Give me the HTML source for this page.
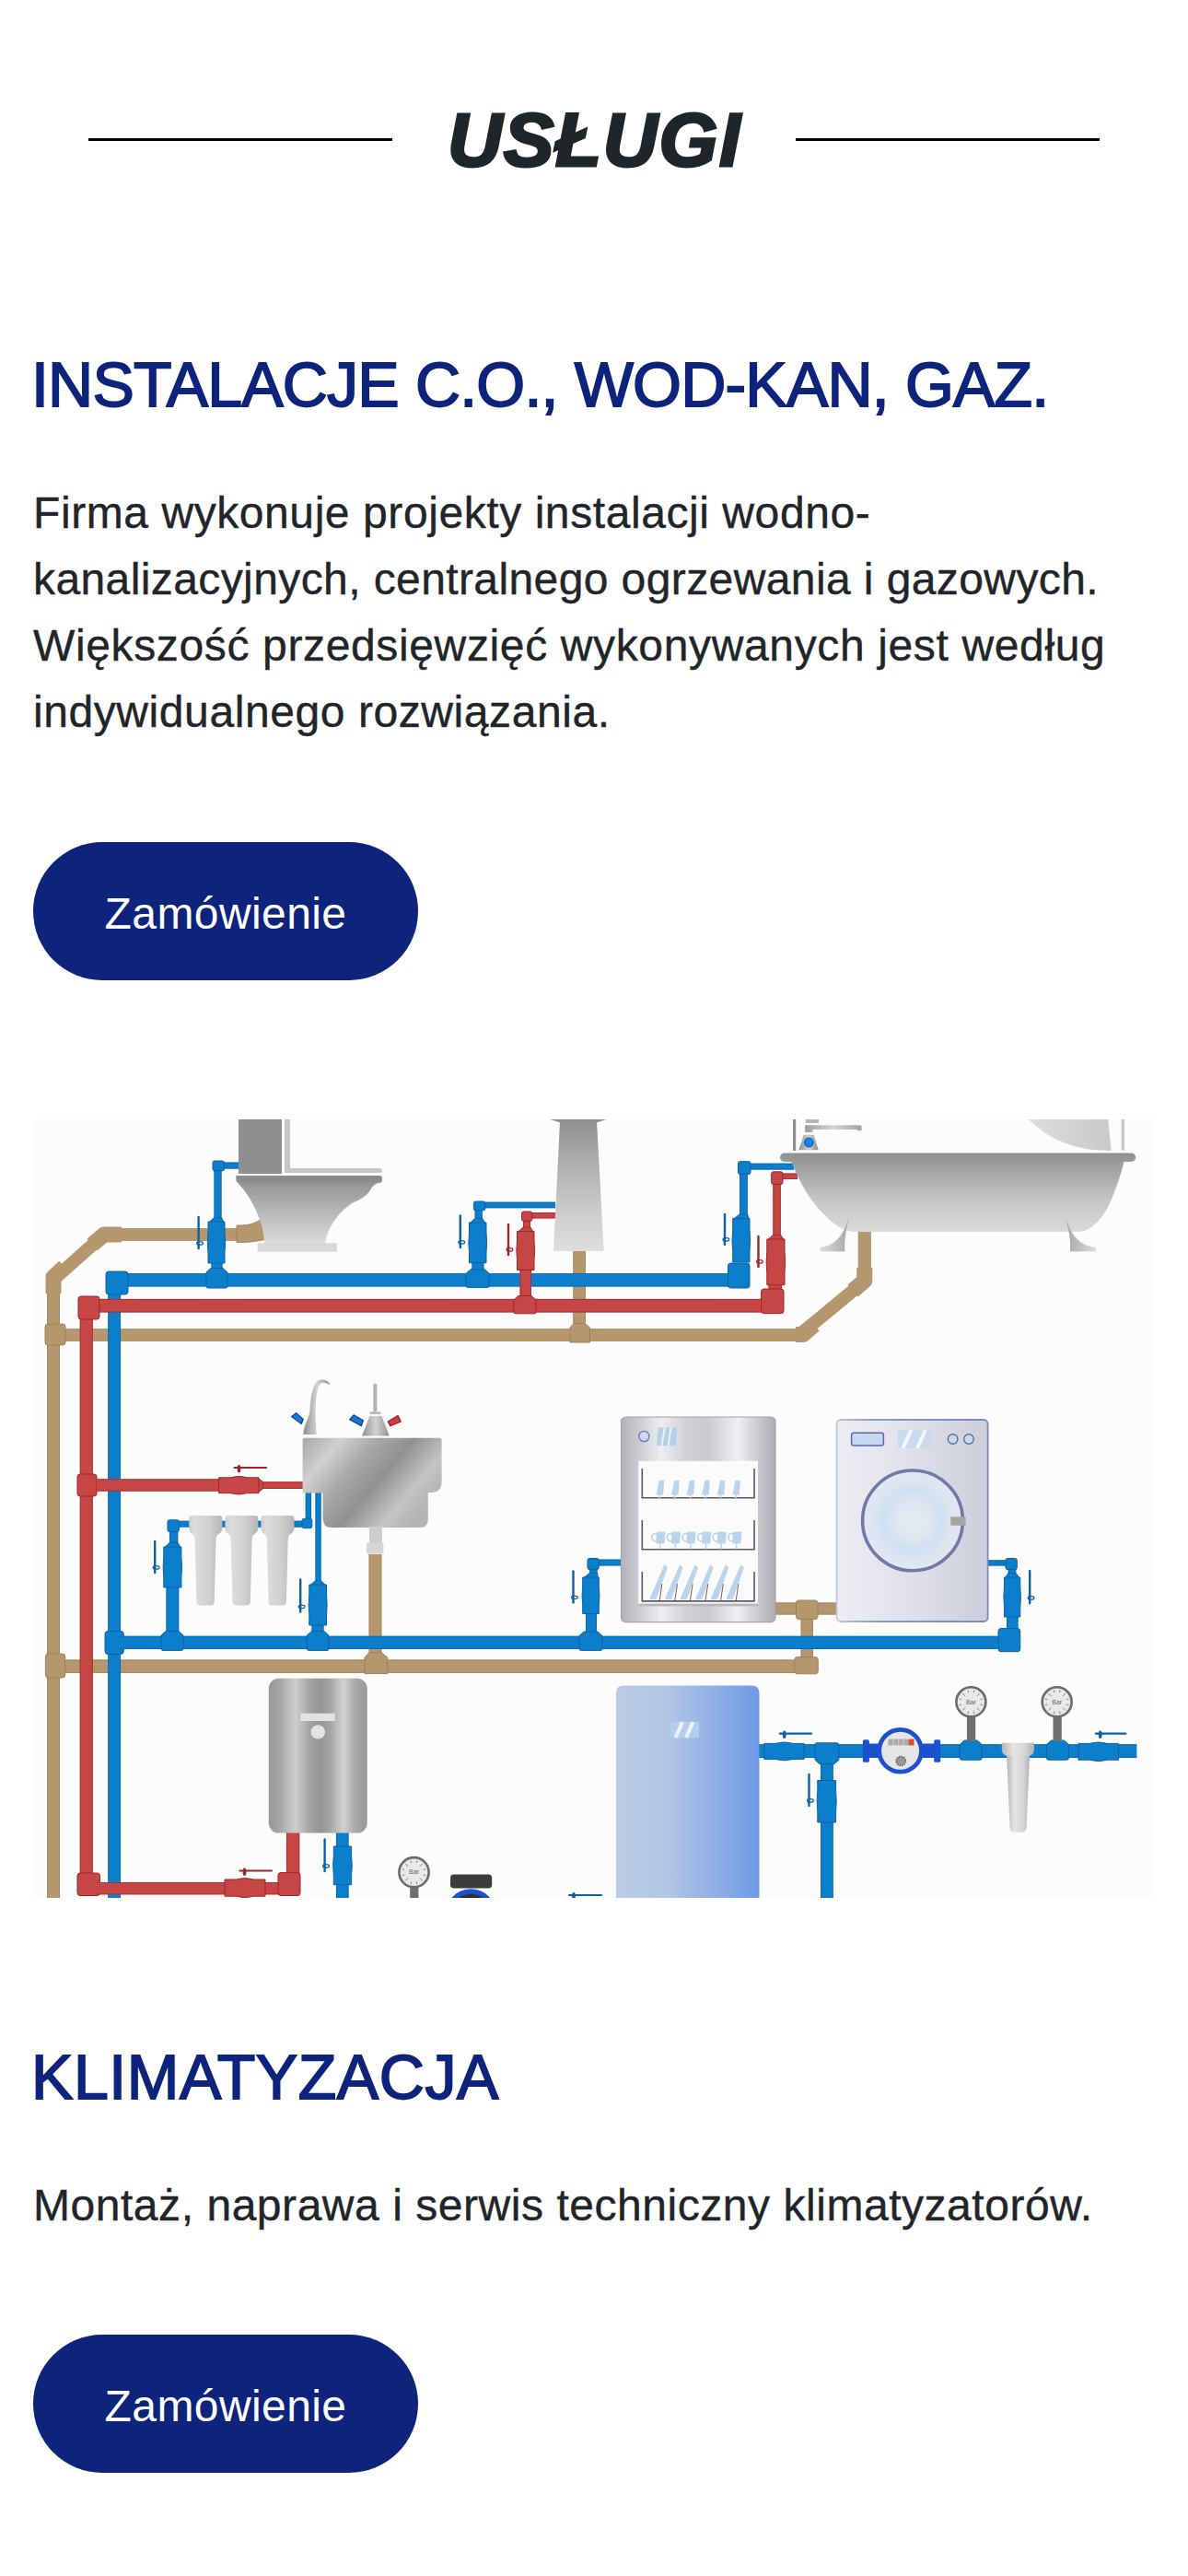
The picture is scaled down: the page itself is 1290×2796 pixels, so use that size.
<!DOCTYPE html>
<html lang="pl">
<head>
<meta charset="utf-8">
<title>Usługi</title>
<style>
html,body{margin:0;padding:0;background:#fff;}
body{width:1290px;height:2796px;position:relative;overflow:hidden;font-family:"Liberation Sans",sans-serif;color:#212529;}
.abs{position:absolute;white-space:nowrap;line-height:1;margin:0;}
.rule{position:absolute;height:3px;background:#000;top:150px;}
.title{font-weight:bold;font-style:italic;font-size:82px;color:#212529;left:486px;top:111px;letter-spacing:1.6px;-webkit-text-stroke:3px #212529;}
.h{color:#0e237b;font-size:68px;left:34px;font-weight:normal;-webkit-text-stroke:1.8px #0e237b;}
.p{font-size:48px;left:36px;color:#212529;-webkit-text-stroke:0.4px #212529;}
.btn{position:absolute;left:36px;width:418px;height:150px;border-radius:75px;background:#0e237b;color:#fff;font-size:48px;text-align:center;line-height:156px;letter-spacing:0.4px;}
#img{position:absolute;left:36px;top:1215px;width:1218px;height:845px;display:block;}
</style>
</head>
<body>
<div class="rule" style="left:96px;width:330px"></div>
<div class="rule" style="left:864px;width:330px"></div>
<h1 class="abs title" id="t">USŁUGI</h1>

<h2 class="abs h" id="h1" style="top:383px;letter-spacing:-0.8px">INSTALACJE C.O., WOD-KAN, GAZ.</h2>
<p class="abs p" id="p1" style="top:533px;letter-spacing:0.575px">Firma wykonuje projekty instalacji wodno-</p>
<p class="abs p" id="p2" style="top:605px;letter-spacing:0.4px">kanalizacyjnych, centralnego ogrzewania i gazowych.</p>
<p class="abs p" id="p3" style="top:677px;letter-spacing:0.638px">Większość przedsięwzięć wykonywanych jest według</p>
<p class="abs p" id="p4" style="top:749px;letter-spacing:0.577px">indywidualnego rozwiązania.</p>
<div class="btn" style="top:914px"><span id="b1">Zamówienie</span></div>

<svg id="img" viewBox="36 1215 1218 845" width="1218" height="845">
<defs>
<linearGradient id="gDown" x1="0" y1="0" x2="0" y2="1"><stop offset="0" stop-color="#8c8c8c"/><stop offset="1" stop-color="#e6e6e6"/></linearGradient>
<linearGradient id="gTub" gradientUnits="userSpaceOnUse" x1="0" y1="1251.5" x2="0" y2="1337"><stop offset="0" stop-color="#8f8f8f"/><stop offset=".12" stop-color="#9b9b9b"/><stop offset=".6" stop-color="#c6c6c6"/><stop offset="1" stop-color="#dadada"/></linearGradient>
<linearGradient id="gCurt" x1="0" y1="0" x2="1" y2="0"><stop offset="0" stop-color="#dedede"/><stop offset="1" stop-color="#c9c9c9"/></linearGradient>
<linearGradient id="gBar" x1="0" y1="0" x2="1" y2="0"><stop offset="0" stop-color="#9a9a9a"/><stop offset=".15" stop-color="#b0b0b0"/><stop offset=".5" stop-color="#d6d6d6"/><stop offset=".8" stop-color="#b4b4b4"/><stop offset="1" stop-color="#a2a2a2"/></linearGradient>
<linearGradient id="gFootL" x1="1" y1="0" x2="0" y2="0"><stop offset="0" stop-color="#a6a6a6"/><stop offset="1" stop-color="#dcdcdc"/></linearGradient>
<linearGradient id="gFootR" x1="0" y1="0" x2="1" y2="0"><stop offset="0" stop-color="#a6a6a6"/><stop offset="1" stop-color="#dcdcdc"/></linearGradient>
<linearGradient id="gPed" gradientUnits="userSpaceOnUse" x1="0" y1="1215" x2="0" y2="1358"><stop offset="0" stop-color="#8f8f8f"/><stop offset=".35" stop-color="#b0b0b0"/><stop offset=".75" stop-color="#d0d0d0"/><stop offset="1" stop-color="#dedede"/></linearGradient>
<linearGradient id="gSink" x1="0" y1="0" x2="1" y2="0.55"><stop offset="0" stop-color="#a6a6a6"/><stop offset=".22" stop-color="#d0d0d0"/><stop offset=".42" stop-color="#a8a8a8"/><stop offset=".62" stop-color="#919191"/><stop offset=".85" stop-color="#c4c4c4"/><stop offset="1" stop-color="#b4b4b4"/></linearGradient>
<linearGradient id="gHeat" x1="0" y1="0" x2="1" y2="0"><stop offset="0" stop-color="#979797"/><stop offset=".12" stop-color="#a8a8a8"/><stop offset=".27" stop-color="#cecece"/><stop offset=".41" stop-color="#a6a6a6"/><stop offset=".52" stop-color="#949494"/><stop offset=".63" stop-color="#a6a6a6"/><stop offset=".76" stop-color="#d2d2d2"/><stop offset=".88" stop-color="#a8a8a8"/><stop offset="1" stop-color="#979797"/></linearGradient>
<linearGradient id="gTank" x1="0" y1="0" x2="1" y2="0"><stop offset="0" stop-color="#b9cbe6"/><stop offset=".35" stop-color="#b3c6e6"/><stop offset="1" stop-color="#6f9ae6"/></linearGradient>
<linearGradient id="gDish" x1="0" y1="0" x2="1" y2="0"><stop offset="0" stop-color="#b2b2b6"/><stop offset=".09" stop-color="#c6c6ca"/><stop offset=".26" stop-color="#eeeef2"/><stop offset=".42" stop-color="#d2d2d6"/><stop offset=".56" stop-color="#cbcbcf"/><stop offset=".76" stop-color="#f0f0f4"/><stop offset=".9" stop-color="#c6c6ca"/><stop offset="1" stop-color="#aeaeb2"/></linearGradient>
<linearGradient id="gWash" x1="0" y1="0" x2="1" y2="0"><stop offset="0" stop-color="#edeef4"/><stop offset=".5" stop-color="#dfe0ea"/><stop offset="1" stop-color="#cccedb"/></linearGradient>
<linearGradient id="gWashB" x1="0" y1="0" x2="1" y2="0"><stop offset="0" stop-color="#c2c6dc"/><stop offset=".25" stop-color="#8f97c4"/><stop offset="1" stop-color="#7f88bc"/></linearGradient>
<radialGradient id="gDoor" cx=".5" cy=".5" r=".5"><stop offset="0" stop-color="#e7eaf1"/><stop offset=".32" stop-color="#e0e7f1"/><stop offset=".58" stop-color="#d1e0f1"/><stop offset=".8" stop-color="#dde5f1"/><stop offset="1" stop-color="#e4e8f1"/></radialGradient>
<linearGradient id="gFil" x1="0" y1="0" x2="1" y2="0"><stop offset="0" stop-color="#b6b6b6"/><stop offset=".35" stop-color="#e4e4e4"/><stop offset=".7" stop-color="#d8d8d8"/><stop offset="1" stop-color="#b0b0b0"/></linearGradient>
<linearGradient id="gFil3" x1="0" y1="0" x2="1" y2="0"><stop offset="0" stop-color="#cdcdcd"/><stop offset=".16" stop-color="#dddddd"/><stop offset=".6" stop-color="#d0d0d0"/><stop offset="1" stop-color="#b6b6b6"/></linearGradient>
<linearGradient id="gFau" x1="0" y1="0" x2="1" y2="0"><stop offset="0" stop-color="#8f8f8f"/><stop offset=".5" stop-color="#d2d2d2"/><stop offset="1" stop-color="#8f8f8f"/></linearGradient>
<clipPath id="clip"><rect x="36" y="1215" width="1218" height="845"/></clipPath>
</defs>
<g clip-path="url(#clip)">
<rect x="36" y="1215" width="1218" height="845" fill="#fcfcfc"/>
<rect x="51" y="1395" width="14" height="667" fill="#b5966d"/>
<path d="M51.5,1395 V2062 M64.5,1395 V2062" stroke="#9a8260" stroke-width="0.9" fill="none" opacity=".75"/>
<path d="M58,1400 V1389 L113,1340 H258" fill="none" stroke="#b5966d" stroke-width="14" stroke-linejoin="round"/>
<path d="M58,1404 V1386 L70,1375" fill="none" stroke="#b5966d" stroke-width="17" stroke-linejoin="round" stroke-linecap="butt"/>
<path d="M100,1351 L113,1340 H132" fill="none" stroke="#b5966d" stroke-width="17" stroke-linejoin="round" stroke-linecap="butt"/>
<path d="M257,1330 H261 C272,1330 278,1327 284,1323 L290,1345 C280,1347 272,1348.5 261,1348.5 H257 Z" fill="#b5966d" stroke="#9a8260" stroke-width="0.9"/>
<path d="M65,1449 H868 L938.8,1390.5 V1336" fill="none" stroke="#b5966d" stroke-width="14.2" stroke-linejoin="round"/>
<path d="M864,1448.5 H872 L884,1438" fill="none" stroke="#b5966d" stroke-width="17" stroke-linejoin="round"/>
<path d="M926,1401 L938.8,1390 V1376" fill="none" stroke="#b5966d" stroke-width="17" stroke-linejoin="round"/>
<rect x="49" y="1437" width="22" height="23" fill="#b5966d" rx="3" stroke="#9a8260" stroke-width="1"/>
<rect x="622.3" y="1356" width="13.7" height="84" fill="#b5966d"/>
<path d="M622.8,1356 V1440 M635.5,1356 V1440" stroke="#9a8260" stroke-width="0.9" fill="none" opacity=".75"/>
<path d="M619,1457 V1441 L623,1436.5 H635 L640.5,1441 V1457 Z" fill="#b5966d" stroke="#9a8260" stroke-width="1"/>
<rect x="65" y="1801.4" width="823" height="14.6" fill="#b5966d"/>
<path d="M65,1801.9 H888 M65,1815.5 H888" stroke="#9a8260" stroke-width="0.9" fill="none" opacity=".75"/>
<rect x="49.4" y="1795" width="21.3" height="26" fill="#b5966d" rx="3" stroke="#9a8260" stroke-width="1"/>
<rect x="400.6" y="1687" width="13.8" height="111" fill="#b5966d"/>
<path d="M401.1,1687 V1798 M413.9,1687 V1798" stroke="#9a8260" stroke-width="0.9" fill="none" opacity=".75"/>
<path d="M396,1816.6 V1799 L401,1793.6 H414 L420.7,1799 V1816.6 Z" fill="#b5966d" stroke="#9a8260" stroke-width="1"/>
<rect x="841" y="1739.4" width="68" height="13.2" fill="#b5966d"/>
<path d="M841,1739.9 H909 M841,1752.1 H909" stroke="#9a8260" stroke-width="0.9" fill="none" opacity=".75"/>
<rect x="869.6" y="1750" width="13.4" height="50" fill="#b5966d"/>
<path d="M870.1,1750 V1800 M882.5,1750 V1800" stroke="#9a8260" stroke-width="0.9" fill="none" opacity=".75"/>
<rect x="864.5" y="1737" width="23.5" height="20.6" fill="#b5966d" rx="3" stroke="#9a8260" stroke-width="1"/>
<rect x="862.8" y="1798.5" width="25.5" height="18.3" fill="#b5966d" rx="3" stroke="#9a8260" stroke-width="1"/>
<rect x="130" y="1382.1" width="670" height="14.4" fill="#0b7fcc"/>
<path d="M130,1382.5 H800 M130,1396 H800" stroke="#0f60a2" stroke-width="0.9" fill="none" opacity=".75"/>
<rect x="117.2" y="1398" width="13.8" height="664" fill="#0b7fcc"/>
<path d="M117.7,1398 V2062 M130.6,1398 V2062" stroke="#0f60a2" stroke-width="0.9" fill="none" opacity=".75"/>
<rect x="115" y="1380" width="24" height="25" fill="#0b7fcc" rx="3" stroke="#0f60a2" stroke-width="1"/>
<rect x="114" y="1770.6" width="20.3" height="24.8" fill="#0b7fcc" rx="3" stroke="#0f60a2" stroke-width="1"/>
<rect x="130" y="1775.8" width="960" height="14.2" fill="#0b7fcc"/>
<path d="M130,1776.2 H1090 M130,1789.5 H1090" stroke="#0f60a2" stroke-width="0.9" fill="none" opacity=".75"/>
<rect x="236" y="1261.6" width="24" height="7" fill="#0b7fcc"/>
<path d="M236,1262 H260 M236,1268.1 H260" stroke="#0f60a2" stroke-width="0.9" fill="none" opacity=".75"/>
<rect x="232.5" y="1266" width="8" height="64" fill="#0b7fcc"/>
<path d="M232.9,1266 V1330 M240.1,1266 V1330" stroke="#0f60a2" stroke-width="0.9" fill="none" opacity=".75"/>
<rect x="231" y="1260" width="12.5" height="10.8" fill="#0b7fcc" rx="2" stroke="#0f60a2" stroke-width="1"/>
<rect x="229.5" y="1368" width="12" height="12" fill="#0b7fcc"/>
<path d="M229.9,1368 V1380 M241.1,1368 V1380" stroke="#0f60a2" stroke-width="0.9" fill="none" opacity=".75"/>
<path d="M227,1326.5 L232.5,1321.5 H240.5 L243,1326.5 Z" fill="#0b7fcc" stroke="#0f60a2" stroke-width="0.9"/>
<path d="M226,1326 L226,1337.2 Q224.7,1348.5 226,1359.8 L226,1371 L244,1371 L244,1359.8 Q245.3,1348.5 244,1337.2 L244,1326 Z" fill="#0b7fcc" stroke="#0f60a2" stroke-width="1" stroke-linejoin="round"/>
<path d="M224,1396 V1381 L229,1376.5 H242 L247,1381 V1396 Q247,1398 245,1398 H226 Q224,1398 224,1396 Z" fill="#0b7fcc" stroke="#0f60a2" stroke-width="1" stroke-linejoin="round"/>
<path d="M215.6,1321 V1355" stroke="#0f60a2" stroke-width="2.4" fill="none" stroke-linecap="round"/>
<ellipse cx="217" cy="1349.4" rx="3.4" ry="1.7" fill="none" stroke="#0f60a2" stroke-width="1.2"/>
<rect x="520" y="1304.7" width="83" height="6.5" fill="#0b7fcc"/>
<path d="M520,1305.2 H603 M520,1310.8 H603" stroke="#0f60a2" stroke-width="0.9" fill="none" opacity=".75"/>
<rect x="515.6" y="1309" width="8.2" height="21" fill="#0b7fcc"/>
<path d="M516.1,1309 V1330 M523.3,1309 V1330" stroke="#0f60a2" stroke-width="0.9" fill="none" opacity=".75"/>
<rect x="514.4" y="1304" width="12.5" height="9.8" fill="#0b7fcc" rx="2" stroke="#0f60a2" stroke-width="1"/>
<rect x="512.4" y="1369" width="13" height="11" fill="#0b7fcc"/>
<path d="M512.9,1369 V1380 M524.9,1369 V1380" stroke="#0f60a2" stroke-width="0.9" fill="none" opacity=".75"/>
<path d="M510.5,1327.5 L515.6,1322.5 H523.8 L527,1327.5 Z" fill="#0b7fcc" stroke="#0f60a2" stroke-width="0.9"/>
<path d="M509.5,1327 L509.5,1337.9 Q508.2,1348.8 509.5,1359.8 L509.5,1370.7 L528,1370.7 L528,1359.8 Q529.3,1348.8 528,1337.9 L528,1327 Z" fill="#0b7fcc" stroke="#0f60a2" stroke-width="1" stroke-linejoin="round"/>
<path d="M506,1395.4 V1382.3 L511,1377.8 H526.3 L531.3,1382.3 V1395.4 Q531.3,1397.4 529.3,1397.4 H508 Q506,1397.4 506,1395.4 Z" fill="#0b7fcc" stroke="#0f60a2" stroke-width="1" stroke-linejoin="round"/>
<path d="M499.8,1319.5 V1354" stroke="#0f60a2" stroke-width="2.4" fill="none" stroke-linecap="round"/>
<ellipse cx="501.2" cy="1348.4" rx="3.4" ry="1.7" fill="none" stroke="#0f60a2" stroke-width="1.2"/>
<rect x="808" y="1262.7" width="54" height="6.9" fill="#0b7fcc"/>
<path d="M808,1263.2 H862 M808,1269.1 H862" stroke="#0f60a2" stroke-width="0.9" fill="none" opacity=".75"/>
<rect x="803" y="1268" width="8.8" height="58" fill="#0b7fcc"/>
<path d="M803.5,1268 V1326 M811.3,1268 V1326" stroke="#0f60a2" stroke-width="0.9" fill="none" opacity=".75"/>
<rect x="801.5" y="1260.7" width="13.5" height="13.8" fill="#0b7fcc" rx="2" stroke="#0f60a2" stroke-width="1"/>
<path d="M796.7,1323 L803,1318 H811.8 L813,1323 Z" fill="#0b7fcc" stroke="#0f60a2" stroke-width="0.9"/>
<path d="M795.7,1322.5 L795.7,1334.4 Q794.4,1346.2 795.7,1358.1 L795.7,1370 L814,1370 L814,1358.1 Q815.3,1346.2 814,1334.4 L814,1322.5 Z" fill="#0b7fcc" stroke="#0f60a2" stroke-width="1" stroke-linejoin="round"/>
<rect x="790.5" y="1371" width="23.5" height="27" fill="#0b7fcc" rx="3" stroke="#0f60a2" stroke-width="1"/>
<path d="M787,1318 V1351" stroke="#0f60a2" stroke-width="2.4" fill="none" stroke-linecap="round"/>
<ellipse cx="788.4" cy="1345.4" rx="3.4" ry="1.7" fill="none" stroke="#0f60a2" stroke-width="1.2"/>
<rect x="188" y="1650.8" width="146" height="6.8" fill="#0b7fcc"/>
<path d="M188,1651.2 H334 M188,1657.1 H334" stroke="#0f60a2" stroke-width="0.9" fill="none" opacity=".75"/>
<rect x="184" y="1656" width="9.2" height="26" fill="#0b7fcc"/>
<path d="M184.4,1656 V1682 M192.8,1656 V1682" stroke="#0f60a2" stroke-width="0.9" fill="none" opacity=".75"/>
<rect x="182" y="1649.8" width="12.4" height="12.7" fill="#0b7fcc" rx="2" stroke="#0f60a2" stroke-width="1"/>
<rect x="180.5" y="1720" width="13.7" height="55" fill="#0b7fcc"/>
<path d="M180.9,1720 V1775 M193.8,1720 V1775" stroke="#0f60a2" stroke-width="0.9" fill="none" opacity=".75"/>
<path d="M178.8,1679.5 L184,1674.5 H193.2 L195.9,1679.5 Z" fill="#0b7fcc" stroke="#0f60a2" stroke-width="0.9"/>
<path d="M177.8,1679 L177.8,1690 Q176.5,1701 177.8,1712 L177.8,1723 L196.9,1723 L196.9,1712 Q198.2,1701 196.9,1690 L196.9,1679 Z" fill="#0b7fcc" stroke="#0f60a2" stroke-width="1" stroke-linejoin="round"/>
<path d="M175,1789.4 V1775.1 L180,1770.6 H194 L199,1775.1 V1789.4 Q199,1791.4 197,1791.4 H177 Q175,1791.4 175,1789.4 Z" fill="#0b7fcc" stroke="#0f60a2" stroke-width="1" stroke-linejoin="round"/>
<path d="M168.2,1673 V1707" stroke="#0f60a2" stroke-width="2.4" fill="none" stroke-linecap="round"/>
<ellipse cx="169.6" cy="1701.4" rx="3.4" ry="1.7" fill="none" stroke="#0f60a2" stroke-width="1.2"/>
<rect x="331.8" y="1618" width="6.2" height="34" fill="#0b7fcc"/>
<path d="M332.2,1618 V1652 M337.6,1618 V1652" stroke="#0f60a2" stroke-width="0.9" fill="none" opacity=".75"/>
<rect x="328" y="1648.3" width="10.8" height="10.3" fill="#0b7fcc" rx="2" stroke="#0f60a2" stroke-width="1"/>
<rect x="342.5" y="1618" width="6.1" height="104" fill="#0b7fcc"/>
<path d="M342.9,1618 V1722 M348.2,1618 V1722" stroke="#0f60a2" stroke-width="0.9" fill="none" opacity=".75"/>
<rect x="338.5" y="1762" width="13" height="13" fill="#0b7fcc"/>
<path d="M338.9,1762 V1775 M351.1,1762 V1775" stroke="#0f60a2" stroke-width="0.9" fill="none" opacity=".75"/>
<path d="M336.8,1720.5 L342.5,1715.5 H348.6 L353.5,1720.5 Z" fill="#0b7fcc" stroke="#0f60a2" stroke-width="0.9"/>
<path d="M335.8,1720 L335.8,1731 Q334.5,1742 335.8,1753 L335.8,1764 L354.5,1764 L354.5,1753 Q355.8,1742 354.5,1731 L354.5,1720 Z" fill="#0b7fcc" stroke="#0f60a2" stroke-width="1" stroke-linejoin="round"/>
<path d="M333.3,1789.4 V1775.1 L338.3,1770.6 H352 L357,1775.1 V1789.4 Q357,1791.4 355,1791.4 H335.3 Q333.3,1791.4 333.3,1789.4 Z" fill="#0b7fcc" stroke="#0f60a2" stroke-width="1" stroke-linejoin="round"/>
<path d="M326.2,1714.5 V1749.5" stroke="#0f60a2" stroke-width="2.4" fill="none" stroke-linecap="round"/>
<ellipse cx="327.6" cy="1743.9" rx="3.4" ry="1.7" fill="none" stroke="#0f60a2" stroke-width="1.2"/>
<rect x="645" y="1692.6" width="31" height="6.8" fill="#0b7fcc"/>
<path d="M645,1693 H676 M645,1699 H676" stroke="#0f60a2" stroke-width="0.9" fill="none" opacity=".75"/>
<rect x="640.2" y="1697" width="8.4" height="17" fill="#0b7fcc"/>
<path d="M640.7,1697 V1714 M648.1,1697 V1714" stroke="#0f60a2" stroke-width="0.9" fill="none" opacity=".75"/>
<rect x="638" y="1691.5" width="12.2" height="12.1" fill="#0b7fcc" rx="2" stroke="#0f60a2" stroke-width="1"/>
<rect x="636" y="1750" width="12" height="25" fill="#0b7fcc"/>
<path d="M636.5,1750 V1775 M647.5,1750 V1775" stroke="#0f60a2" stroke-width="0.9" fill="none" opacity=".75"/>
<path d="M633.7,1712.5 L640.2,1707.5 H648.6 L649.3,1712.5 Z" fill="#0b7fcc" stroke="#0f60a2" stroke-width="0.9"/>
<path d="M632.7,1712 L632.7,1721.9 Q631.4,1731.8 632.7,1741.6 L632.7,1751.5 L650.3,1751.5 L650.3,1741.6 Q651.6,1731.8 650.3,1721.9 L650.3,1712 Z" fill="#0b7fcc" stroke="#0f60a2" stroke-width="1" stroke-linejoin="round"/>
<path d="M629,1789.4 V1775.5 L634,1771 H649 L654,1775.5 V1789.4 Q654,1791.4 652,1791.4 H631 Q629,1791.4 629,1789.4 Z" fill="#0b7fcc" stroke="#0f60a2" stroke-width="1" stroke-linejoin="round"/>
<path d="M622.5,1705.5 V1739.4" stroke="#0f60a2" stroke-width="2.4" fill="none" stroke-linecap="round"/>
<ellipse cx="623.9" cy="1733.8" rx="3.4" ry="1.7" fill="none" stroke="#0f60a2" stroke-width="1.2"/>
<rect x="1072" y="1693.3" width="26" height="6.2" fill="#0b7fcc"/>
<path d="M1072,1693.8 H1098 M1072,1699 H1098" stroke="#0f60a2" stroke-width="0.9" fill="none" opacity=".75"/>
<rect x="1094.8" y="1697" width="8.4" height="17" fill="#0b7fcc"/>
<path d="M1095.2,1697 V1714 M1102.8,1697 V1714" stroke="#0f60a2" stroke-width="0.9" fill="none" opacity=".75"/>
<rect x="1092" y="1691.5" width="12.3" height="12.1" fill="#0b7fcc" rx="2" stroke="#0f60a2" stroke-width="1"/>
<rect x="1093" y="1753" width="12.5" height="17" fill="#0b7fcc"/>
<path d="M1093.5,1753 V1770 M1105,1753 V1770" stroke="#0f60a2" stroke-width="0.9" fill="none" opacity=".75"/>
<path d="M1091.5,1712.5 L1094.8,1707.5 H1103.2 L1106.8,1712.5 Z" fill="#0b7fcc" stroke="#0f60a2" stroke-width="0.9"/>
<path d="M1090.5,1712 L1090.5,1722.8 Q1089.2,1733.5 1090.5,1744.2 L1090.5,1755 L1107.8,1755 L1107.8,1744.2 Q1109.1,1733.5 1107.8,1722.8 L1107.8,1712 Z" fill="#0b7fcc" stroke="#0f60a2" stroke-width="1" stroke-linejoin="round"/>
<rect x="1084" y="1767.5" width="23.8" height="25.2" fill="#0b7fcc" rx="3" stroke="#0f60a2" stroke-width="1"/>
<path d="M1118.2,1705 V1740" stroke="#0f60a2" stroke-width="2.4" fill="none" stroke-linecap="round"/>
<ellipse cx="1119.6" cy="1734.4" rx="3.4" ry="1.7" fill="none" stroke="#0f60a2" stroke-width="1.2"/>
<rect x="365" y="1989" width="13.5" height="73" fill="#0b7fcc"/>
<path d="M365.4,1989 V2062 M378.1,1989 V2062" stroke="#0f60a2" stroke-width="0.9" fill="none" opacity=".75"/>
<path d="M362.3,2004 L362.3,2014.4 Q361,2024.8 362.3,2035.3 L362.3,2045.7 L381.6,2045.7 L381.6,2035.3 Q382.9,2024.8 381.6,2014.4 L381.6,2004 Z" fill="#0b7fcc" stroke="#0f60a2" stroke-width="1" stroke-linejoin="round"/>
<path d="M352.6,1996.5 V2031" stroke="#0f60a2" stroke-width="2.4" fill="none" stroke-linecap="round"/>
<ellipse cx="354" cy="2025.4" rx="3.4" ry="1.7" fill="none" stroke="#0f60a2" stroke-width="1.2"/>
<rect x="824" y="1893.2" width="410.4" height="14.8" fill="#0b7fcc"/>
<path d="M824,1893.7 H1234.4 M824,1907.5 H1234.4" stroke="#0f60a2" stroke-width="0.9" fill="none" opacity=".75"/>
<path d="M829.7,1892.4 L841.9,1892.4 Q851.5,1889.5 861,1892.4 L873.2,1892.4 L873.2,1909.4 L861,1909.4 Q851.5,1912.3 841.9,1909.4 L829.7,1909.4 Z" fill="#0b7fcc" stroke="#0f60a2" stroke-width="1" stroke-linejoin="round"/>
<path d="M846.7,1881.6 H881" stroke="#0f60a2" stroke-width="2.1" fill="none" stroke-linecap="round"/>
<ellipse cx="851.7" cy="1882.8" rx="1.9" ry="4.2" fill="#0f60a2"/>
<rect x="891" y="1912" width="13.8" height="150" fill="#0b7fcc"/>
<path d="M891.5,1912 V2062 M904.3,1912 V2062" stroke="#0f60a2" stroke-width="0.9" fill="none" opacity=".75"/>
<path d="M885,1893.8 V1910.2 L890,1914.7 H905.8 L910.8,1910.2 V1893.8 Q910.8,1891.8 908.8,1891.8 H887 Q885,1891.8 885,1893.8 Z" fill="#0b7fcc" stroke="#0f60a2" stroke-width="1" stroke-linejoin="round"/>
<path d="M887.8,1932.5 L887.8,1943.9 Q886.5,1955.2 887.8,1966.6 L887.8,1978 L907.6,1978 L907.6,1966.6 Q908.9,1955.2 907.6,1943.9 L907.6,1932.5 Z" fill="#0b7fcc" stroke="#0f60a2" stroke-width="1" stroke-linejoin="round"/>
<path d="M878.5,1926 V1960" stroke="#0f60a2" stroke-width="2.4" fill="none" stroke-linecap="round"/>
<ellipse cx="879.9" cy="1954.4" rx="3.4" ry="1.7" fill="none" stroke="#0f60a2" stroke-width="1.2"/>
<path d="M1042.3,1908.2 V1893.5 L1047.3,1889 H1061.2 L1066.2,1893.5 V1908.2 Q1066.2,1910.2 1064.2,1910.2 H1044.3 Q1042.3,1910.2 1042.3,1908.2 Z" fill="#0b7fcc" stroke="#0f60a2" stroke-width="1" stroke-linejoin="round"/>
<path d="M1136.5,1908.2 V1893.5 L1141.5,1889 H1155.4 L1160.4,1893.5 V1908.2 Q1160.4,1910.2 1158.4,1910.2 H1138.5 Q1136.5,1910.2 1136.5,1908.2 Z" fill="#0b7fcc" stroke="#0f60a2" stroke-width="1" stroke-linejoin="round"/>
<path d="M1171,1892.4 L1183.2,1892.4 Q1192.8,1889.5 1202.4,1892.4 L1214.6,1892.4 L1214.6,1910.2 L1202.4,1910.2 Q1192.8,1913.1 1183.2,1910.2 L1171,1910.2 Z" fill="#0b7fcc" stroke="#0f60a2" stroke-width="1" stroke-linejoin="round"/>
<path d="M1189.7,1881.6 H1222.5" stroke="#0f60a2" stroke-width="2.1" fill="none" stroke-linecap="round"/>
<ellipse cx="1194.7" cy="1882.8" rx="1.9" ry="4.2" fill="#0f60a2"/>
<path d="M618,2057 H653" stroke="#0f60a2" stroke-width="2.1" fill="none" stroke-linecap="round"/>
<ellipse cx="623" cy="2058.2" rx="1.9" ry="4.2" fill="#0f60a2"/>
<rect x="100" y="1409.9" width="732" height="14.6" fill="#c64545"/>
<path d="M100,1410.4 H832 M100,1424 H832" stroke="#9c262a" stroke-width="0.9" fill="none" opacity=".75"/>
<rect x="86.8" y="1425" width="14" height="615" fill="#c64545"/>
<path d="M87.2,1425 V2040 M100.3,1425 V2040" stroke="#9c262a" stroke-width="0.9" fill="none" opacity=".75"/>
<rect x="85" y="1407" width="23" height="25" fill="#c64545" rx="3" stroke="#9c262a" stroke-width="1"/>
<rect x="84" y="1600" width="21" height="24" fill="#c64545" rx="3" stroke="#9c262a" stroke-width="1"/>
<rect x="84" y="2033" width="24.5" height="24.5" fill="#c64545" rx="3" stroke="#9c262a" stroke-width="1"/>
<rect x="105" y="1605.3" width="135" height="13.3" fill="#c64545"/>
<path d="M105,1605.8 H240 M105,1618.1 H240" stroke="#9c262a" stroke-width="0.9" fill="none" opacity=".75"/>
<rect x="284" y="1608.3" width="46" height="7.7" fill="#c64545"/>
<path d="M284,1608.8 H330 M284,1615.5 H330" stroke="#9c262a" stroke-width="0.9" fill="none" opacity=".75"/>
<path d="M280.5,1604.8 L285.5,1608.3 V1616 L280.5,1619.6 Z" fill="#c64545" stroke="#9c262a" stroke-width="0.9"/>
<path d="M237.6,1603.8 L249.8,1603.8 Q259.3,1600.9 268.8,1603.8 L281,1603.8 L281,1620.6 L268.8,1620.6 Q259.3,1623.5 249.8,1620.6 L237.6,1620.6 Z" fill="#c64545" stroke="#9c262a" stroke-width="1" stroke-linejoin="round"/>
<path d="M254.5,1593 H289" stroke="#9c262a" stroke-width="2.1" fill="none" stroke-linecap="round"/>
<ellipse cx="259.5" cy="1594.2" rx="1.9" ry="4.2" fill="#9c262a"/>
<rect x="108" y="2043" width="197" height="13.3" fill="#c64545"/>
<path d="M108,2043.5 H305 M108,2055.9 H305" stroke="#9c262a" stroke-width="0.9" fill="none" opacity=".75"/>
<path d="M244,2040 L256.3,2040 Q266,2037.1 275.7,2040 L288,2040 L288,2058.2 L275.7,2058.2 Q266,2061.1 256.3,2058.2 L244,2058.2 Z" fill="#c64545" stroke="#9c262a" stroke-width="1" stroke-linejoin="round"/>
<path d="M260.5,2030.5 H295" stroke="#9c262a" stroke-width="2.1" fill="none" stroke-linecap="round"/>
<ellipse cx="265.5" cy="2031.7" rx="1.9" ry="4.2" fill="#9c262a"/>
<rect x="311" y="1989" width="14.2" height="51" fill="#c64545"/>
<path d="M311.4,1989 V2040 M324.8,1989 V2040" stroke="#9c262a" stroke-width="0.9" fill="none" opacity=".75"/>
<rect x="302" y="2032.5" width="24" height="25" fill="#c64545" rx="3" stroke="#9c262a" stroke-width="1"/>
<rect x="572" y="1316" width="31" height="6.4" fill="#c64545"/>
<path d="M572,1316.5 H603 M572,1322 H603" stroke="#9c262a" stroke-width="0.9" fill="none" opacity=".75"/>
<rect x="568" y="1320" width="8" height="20" fill="#c64545"/>
<path d="M568.5,1320 V1340 M575.5,1320 V1340" stroke="#9c262a" stroke-width="0.9" fill="none" opacity=".75"/>
<rect x="566.6" y="1315" width="11.2" height="10.4" fill="#c64545" rx="2" stroke="#9c262a" stroke-width="1"/>
<rect x="564.5" y="1376" width="12.5" height="34" fill="#c64545"/>
<path d="M565,1376 V1410 M576.5,1376 V1410" stroke="#9c262a" stroke-width="0.9" fill="none" opacity=".75"/>
<path d="M562.5,1337 L568,1332 H576 L579,1337 Z" fill="#c64545" stroke="#9c262a" stroke-width="0.9"/>
<path d="M561.5,1336.5 L561.5,1347 Q560.2,1357.5 561.5,1367.9 L561.5,1378.4 L580,1378.4 L580,1367.9 Q581.3,1357.5 580,1347 L580,1336.5 Z" fill="#c64545" stroke="#9c262a" stroke-width="1" stroke-linejoin="round"/>
<path d="M557.8,1423.8 V1411 L562.8,1406.5 H577 L582,1411 V1423.8 Q582,1425.8 580,1425.8 H559.8 Q557.8,1425.8 557.8,1423.8 Z" fill="#c64545" stroke="#9c262a" stroke-width="1" stroke-linejoin="round"/>
<path d="M552,1329 V1362" stroke="#9c262a" stroke-width="2.4" fill="none" stroke-linecap="round"/>
<ellipse cx="553.4" cy="1356.4" rx="3.4" ry="1.7" fill="none" stroke="#9c262a" stroke-width="1.2"/>
<rect x="844" y="1273.5" width="22" height="6.5" fill="#c64545"/>
<path d="M844,1274 H866 M844,1279.5 H866" stroke="#9c262a" stroke-width="0.9" fill="none" opacity=".75"/>
<rect x="839.3" y="1278" width="8.5" height="70" fill="#c64545"/>
<path d="M839.8,1278 V1348 M847.3,1278 V1348" stroke="#9c262a" stroke-width="0.9" fill="none" opacity=".75"/>
<rect x="837.7" y="1271.8" width="12.3" height="13.6" fill="#c64545" rx="2" stroke="#9c262a" stroke-width="1"/>
<rect x="834.5" y="1392" width="14.5" height="10" fill="#c64545"/>
<path d="M835,1392 V1402 M848.5,1392 V1402" stroke="#9c262a" stroke-width="0.9" fill="none" opacity=".75"/>
<path d="M833.8,1345.5 L839.3,1340.5 H847.8 L851,1345.5 Z" fill="#c64545" stroke="#9c262a" stroke-width="0.9"/>
<path d="M832.8,1345 L832.8,1357.4 Q831.5,1369.8 832.8,1382.3 L832.8,1394.7 L852,1394.7 L852,1382.3 Q853.3,1369.8 852,1357.4 L852,1345 Z" fill="#c64545" stroke="#9c262a" stroke-width="1" stroke-linejoin="round"/>
<rect x="826.6" y="1399" width="24.4" height="26.7" fill="#c64545" rx="3" stroke="#9c262a" stroke-width="1"/>
<path d="M823.5,1342 V1375" stroke="#9c262a" stroke-width="2.4" fill="none" stroke-linecap="round"/>
<ellipse cx="824.9" cy="1369.4" rx="3.4" ry="1.7" fill="none" stroke="#9c262a" stroke-width="1.2"/>
<rect x="259" y="1213" width="47" height="61" fill="#8f8f8f"/>
<path d="M309,1213 V1273 H412 Q415,1273 415,1270.5 Q415,1268 412,1268 H315 V1213 Z" fill="#c6c6c6"/>
<path d="M256.6,1276 H412 Q415,1276 415,1279.8 Q415,1283.8 412,1283.8 Q405,1285 402,1292 Q397,1300 382,1306 Q366,1317 357.6,1334 Q354,1342 353,1349.4 H365.7 V1358.5 H279.8 V1349.4 H287.3 Q286,1335 282.8,1326 Q277,1309 266.7,1294 Q261,1287 256.6,1282 Z" fill="url(#gDown)"/>
<path d="M256.6,1276 H412 Q415,1276 415,1279.8 Q415,1283.6 412,1283.6 H258 L256.6,1282 Z" fill="#8b8b8b"/>
<rect x="279.8" y="1349.4" width="85.9" height="9.1" fill="#d8d8d8"/>
<path d="M608.2,1213 H647.8 L655.7,1358 H601 Z" fill="url(#gPed)"/>
<path d="M595,1213 H660.5 L658.3,1215 L647.8,1218.6 H608.2 L597.3,1215 Z" fill="#909090"/>
<rect x="861" y="1213" width="3.2" height="36" fill="#8f8f8f"/>
<path d="M1115,1213 H1203 L1206.6,1248.7 Q1150,1250 1115,1213 Z" fill="url(#gCurt)"/>
<rect x="1217.7" y="1213" width="3.3" height="35.6" fill="#c6c6c6"/>
<rect x="874.8" y="1213" width="14.2" height="6" fill="#b4b4b4" rx="1"/>
<path d="M874.2,1221.2 H934 Q935.6,1221.2 935.6,1223 V1227.2 H931 V1226 H882.4 V1229 H874.2 Z" fill="url(#gBar)"/>
<path d="M867.5,1248.2 L872.7,1231.8 H883.6 L888.7,1248.2 Z" fill="url(#gFau)"/>
<circle cx="878.3" cy="1240" r="4.8" fill="#1783e2" stroke="#0d62b8" stroke-width="1.2"/>
<path d="M858.6,1256 L859.5,1261 C866,1278 876,1298 889.3,1312.2 C900,1324 912,1335.5 926,1337 H1172 C1186,1335.5 1198,1322 1206,1303.9 C1212,1290 1217,1275 1220.5,1261 L1221.4,1256 Z" fill="url(#gTub)"/>
<rect x="847" y="1251.5" width="386.2" height="9.5" fill="url(#gTub)" rx="4.7"/>
<path d="M922,1320 C917,1340 907,1352 890.5,1354 V1358.2 H917.5 C916.5,1345 919,1335 922,1320 Z" fill="url(#gFootL)"/>
<path d="M1157,1320 C1162,1340 1172,1352 1190,1354 V1358.2 H1162 C1163,1345 1160,1335 1157,1320 Z" fill="url(#gFootR)"/>
<path d="M331,1560.8 H477 Q479.6,1560.8 479.6,1563.5 V1608 Q479.6,1620 468,1620 H464.8 V1649 Q464.8,1658 456,1658 H360 Q350.6,1658 350.6,1648 V1620.5 H328.6 V1563.5 Q328.6,1560.8 331,1560.8 Z" fill="url(#gSink)"/>
<rect x="401" y="1657" width="14" height="19" fill="#cdcdcd"/>
<rect x="398" y="1674.4" width="18.4" height="12.1" fill="#d6d6d6" rx="1.5"/>
<path d="M329.3,1557 C330,1545 336,1540 336.5,1530 C337.5,1512 341,1497.5 349,1497.3 C354,1497.2 357.5,1500 358.5,1503.5 C355.5,1501.5 352,1500.5 349.5,1501 C344.5,1502 343,1516 342.5,1530 C342.3,1541 343.5,1548 343.6,1557 Z" fill="url(#gFau)"/>
<path d="M393,1558.5 L401.5,1537 H414.5 L422.8,1558.5 Z" fill="url(#gFau)"/>
<rect x="401.5" y="1532.2" width="12.1" height="2.8" fill="#b9b9b9" rx="1"/>
<rect x="405.3" y="1501.5" width="4.1" height="31.5" fill="#b4b4b4" rx="2"/>
<path d="M316.5,1537.6 L321.6,1533.6 L329.2,1540.4 L327.4,1545.4 Z" fill="#1b74d4" stroke="#0c3f8f" stroke-width="1.2" stroke-linejoin="round"/>
<path d="M379.6,1540.8 L384,1535.8 L394.4,1541.8 L392.4,1547.8 Z" fill="#1b74d4" stroke="#0c3f8f" stroke-width="1.2" stroke-linejoin="round"/>
<path d="M421.3,1543 L432,1536.6 L435.3,1543 L423.8,1547.8 Z" fill="#d23b3b" stroke="#8f1f1f" stroke-width="1.2" stroke-linejoin="round"/>
<path d="M205.3,1648 Q205.3,1645 208.3,1645 H238.3 Q241.3,1645 241.3,1648 V1659 Q241.3,1663 236,1666 Q234.5,1668 234.5,1672 L232.7,1738.5 Q232.7,1742.5 228.5,1742.5 H217.6 Q213.4,1742.5 213.4,1738.5 L211.6,1672 Q211.6,1668 210.1,1666 Q205.3,1663 205.3,1659 Z" fill="url(#gFil3)"/>
<path d="M244.4,1648 Q244.4,1645 247.4,1645 H277.3 Q280.3,1645 280.3,1648 V1659 Q280.3,1663 275.1,1666 Q273.6,1668 273.6,1672 L271.8,1738.5 Q271.8,1742.5 267.6,1742.5 H256.7 Q252.5,1742.5 252.5,1738.5 L250.7,1672 Q250.7,1668 249.2,1666 Q244.4,1663 244.4,1659 Z" fill="url(#gFil3)"/>
<path d="M283.4,1648 Q283.4,1645 286.4,1645 H316.4 Q319.4,1645 319.4,1648 V1659 Q319.4,1663 314.2,1666 Q312.7,1668 312.7,1672 L310.9,1738.5 Q310.9,1742.5 306.7,1742.5 H295.8 Q291.6,1742.5 291.6,1738.5 L289.8,1672 Q289.8,1668 288.3,1666 Q283.4,1663 283.4,1659 Z" fill="url(#gFil3)"/>
<rect x="674.5" y="1538" width="167.5" height="222.6" fill="url(#gDish)" rx="5" stroke="#a3a3a8" stroke-width="1.2"/>
<rect x="693.3" y="1585.8" width="129.7" height="156.8" fill="#fbfbfc"/>
<rect x="693.3" y="1740.6" width="129.7" height="2.8" fill="#b8b8bc"/>
<circle cx="699.4" cy="1559" r="5.6" fill="#c9d8ee" stroke="#6a7eb4" stroke-width="1.4"/>
<path d="M714.6,1549.2 H735.4 L733.8,1569.2 H713 Z" fill="#b7d0ea"/>
<path d="M722,1549.2 L718.4,1569.2 M728.6,1549.2 L725.6,1569.2" stroke="#eef2f8" stroke-width="2"/>
<path d="M697.3,1594 V1625.8 H819 V1594" fill="none" stroke="#5b5860" stroke-width="1.6"/>
<path d="M697.3,1650 V1681.8 H819 V1650" fill="none" stroke="#5b5860" stroke-width="1.6"/>
<path d="M697.3,1706 V1737.9 H819 V1706" fill="none" stroke="#5b5860" stroke-width="1.6"/>
<path d="M715.8,1606.8 h5.4 l-1.1,15.6 h-3 v3.6 h-1.6 v-3.6 h-2.9 Z" fill="#bcd3ec"/>
<path d="M713,1662.4 h8.4 q1.2,0 1,1.500 l-0.800,10 q-0.200,1.500 -1.600,1.500 h-2.600 v6 h-1.400 v-6 h-2.400 q-1.400,0 -1.400,-1.500 Z" fill="#bcd3ec"/>
<ellipse cx="711.4" cy="1668.6" rx="3.6" ry="4.2" fill="none" stroke="#bcd3ec" stroke-width="1.7"/>
<path d="M705.3,1735.5 L721.5,1698 L724.9,1701.5 L712.8,1735.5 Q708.8,1737 705.3,1735.5 Z" fill="#bcd3ec"/>
<path d="M716.2,1737 L718.9,1719.2" stroke="#7a5a52" stroke-width="1"/>
<path d="M732.3,1606.8 h5.4 l-1.1,15.6 h-3 v3.6 h-1.6 v-3.6 h-2.9 Z" fill="#bcd3ec"/>
<path d="M729.6,1662.4 h8.4 q1.2,0 1,1.500 l-0.800,10 q-0.200,1.500 -1.600,1.500 h-2.600 v6 h-1.400 v-6 h-2.400 q-1.400,0 -1.400,-1.500 Z" fill="#bcd3ec"/>
<ellipse cx="728" cy="1668.6" rx="3.6" ry="4.2" fill="none" stroke="#bcd3ec" stroke-width="1.7"/>
<path d="M721.9,1735.5 L738.1,1698 L741.5,1701.5 L729.4,1735.5 Q725.4,1737 721.9,1735.5 Z" fill="#bcd3ec"/>
<path d="M732.8,1737 L735.5,1719.2" stroke="#7a5a52" stroke-width="1"/>
<path d="M748.9,1606.8 h5.4 l-1.1,15.6 h-3 v3.6 h-1.6 v-3.6 h-2.9 Z" fill="#bcd3ec"/>
<path d="M746.2,1662.4 h8.4 q1.2,0 1,1.500 l-0.800,10 q-0.200,1.500 -1.600,1.500 h-2.600 v6 h-1.400 v-6 h-2.400 q-1.400,0 -1.400,-1.500 Z" fill="#bcd3ec"/>
<ellipse cx="744.6" cy="1668.6" rx="3.6" ry="4.2" fill="none" stroke="#bcd3ec" stroke-width="1.7"/>
<path d="M738.5,1735.5 L754.7,1698 L758.1,1701.5 L746,1735.5 Q742,1737 738.5,1735.5 Z" fill="#bcd3ec"/>
<path d="M749.4,1737 L752.1,1719.2" stroke="#7a5a52" stroke-width="1"/>
<path d="M765.4,1606.8 h5.4 l-1.1,15.6 h-3 v3.6 h-1.6 v-3.6 h-2.9 Z" fill="#bcd3ec"/>
<path d="M762.8,1662.4 h8.4 q1.2,0 1,1.500 l-0.800,10 q-0.200,1.500 -1.600,1.500 h-2.600 v6 h-1.400 v-6 h-2.400 q-1.400,0 -1.400,-1.500 Z" fill="#bcd3ec"/>
<ellipse cx="761.2" cy="1668.6" rx="3.6" ry="4.2" fill="none" stroke="#bcd3ec" stroke-width="1.7"/>
<path d="M755.1,1735.5 L771.3,1698 L774.7,1701.5 L762.6,1735.5 Q758.6,1737 755.1,1735.5 Z" fill="#bcd3ec"/>
<path d="M766,1737 L768.7,1719.2" stroke="#7a5a52" stroke-width="1"/>
<path d="M782,1606.8 h5.4 l-1.1,15.6 h-3 v3.6 h-1.6 v-3.6 h-2.9 Z" fill="#bcd3ec"/>
<path d="M779.4,1662.4 h8.4 q1.2,0 1,1.500 l-0.800,10 q-0.200,1.500 -1.600,1.500 h-2.600 v6 h-1.400 v-6 h-2.400 q-1.400,0 -1.400,-1.500 Z" fill="#bcd3ec"/>
<ellipse cx="777.8" cy="1668.6" rx="3.6" ry="4.2" fill="none" stroke="#bcd3ec" stroke-width="1.7"/>
<path d="M771.7,1735.5 L787.9,1698 L791.3,1701.5 L779.2,1735.5 Q775.2,1737 771.7,1735.5 Z" fill="#bcd3ec"/>
<path d="M782.6,1737 L785.3,1719.2" stroke="#7a5a52" stroke-width="1"/>
<path d="M798.5,1606.8 h5.4 l-1.1,15.6 h-3 v3.6 h-1.6 v-3.6 h-2.9 Z" fill="#bcd3ec"/>
<path d="M796,1662.4 h8.4 q1.2,0 1,1.500 l-0.800,10 q-0.200,1.500 -1.600,1.500 h-2.600 v6 h-1.400 v-6 h-2.400 q-1.400,0 -1.400,-1.500 Z" fill="#bcd3ec"/>
<ellipse cx="794.4" cy="1668.6" rx="3.6" ry="4.2" fill="none" stroke="#bcd3ec" stroke-width="1.7"/>
<path d="M788.3,1735.5 L804.5,1698 L807.9,1701.5 L795.8,1735.5 Q791.8,1737 788.3,1735.5 Z" fill="#bcd3ec"/>
<path d="M799.2,1737 L801.9,1719.2" stroke="#7a5a52" stroke-width="1"/>
<rect x="908.6" y="1541" width="164" height="219" fill="url(#gWash)" rx="4.5" stroke="url(#gWashB)" stroke-width="1.8"/>
<rect x="924.6" y="1555.2" width="34.8" height="13.8" fill="#c6d9ef" rx="2.5" stroke="#5b6aa6" stroke-width="1.5"/>
<rect x="975" y="1552" width="37" height="19.6" fill="#c9dbef"/>
<path d="M989.5,1552 L980.5,1571.6 M1005,1552 L996,1571.6" stroke="#f4f6fa" stroke-width="4"/>
<circle cx="1034.6" cy="1562" r="5.3" fill="#c9dbef" stroke="#5b6aa6" stroke-width="1.4"/>
<circle cx="1052" cy="1562" r="5.3" fill="#c9dbef" stroke="#5b6aa6" stroke-width="1.4"/>
<circle cx="991" cy="1650.4" r="54.4" fill="url(#gDoor)" stroke="#7179aa" stroke-width="3.6"/>
<rect x="1032.2" y="1646.2" width="16.5" height="9.6" fill="#a7a5a0" rx="1"/>
<rect x="291.8" y="1821.8" width="106.9" height="167.8" fill="url(#gHeat)" rx="11"/>
<rect x="326.3" y="1859.7" width="37.5" height="8.3" fill="#e3e3e3"/>
<circle cx="345.3" cy="1879.9" r="7.7" fill="#e3e3e3"/>
<path d="M668.9,2062 V1838 Q668.9,1829.6 677.5,1829.6 H816 Q824.5,1829.6 824.5,1838 V2062 Z" fill="url(#gTank)"/>
<rect x="728" y="1869" width="31" height="17" fill="#b7cdee"/>
<path d="M741,1869 L733.5,1886 M752.5,1869 L745,1886" stroke="#eef3fb" stroke-width="4"/>
<rect x="1049.9" y="1863" width="9.3" height="27" fill="#6f6f6f"/>
<circle cx="1054.4" cy="1847.3" r="16" fill="#e9e9e9" stroke="#6b6b6b" stroke-width="2.6"/>
<path d="M1067.2,1850.7 L1064.6,1850 M1063.7,1856.6 L1060.7,1853.6 M1057.8,1860.1 L1057.1,1857.5 M1051,1860.1 L1051.7,1857.5 M1045.1,1856.6 L1048.1,1853.6 M1041.6,1850.7 L1044.2,1850 M1041.6,1843.9 L1044.2,1844.6 M1045.1,1838 L1048.1,1841 M1051,1834.5 L1051.7,1837.1 M1057.8,1834.5 L1057.1,1837.1 M1063.7,1838 L1060.7,1841 M1067.2,1843.9 L1064.6,1844.6 " stroke="#777" stroke-width="0.9"/>
<text x="1054.4" y="1849.5" font-family="Liberation Sans, sans-serif" font-size="7" text-anchor="middle" fill="#686868">Bar</text>
<rect x="1143.5" y="1863" width="9.3" height="27" fill="#6f6f6f"/>
<circle cx="1147.7" cy="1847.3" r="16" fill="#e9e9e9" stroke="#6b6b6b" stroke-width="2.6"/>
<path d="M1160.5,1850.7 L1157.9,1850 M1157,1856.6 L1154,1853.6 M1151.1,1860.1 L1150.4,1857.5 M1144.3,1860.1 L1145,1857.5 M1138.4,1856.6 L1141.4,1853.6 M1134.9,1850.7 L1137.5,1850 M1134.9,1843.9 L1137.5,1844.6 M1138.4,1838 L1141.4,1841 M1144.3,1834.5 L1145,1837.1 M1151.1,1834.5 L1150.4,1837.1 M1157,1838 L1154,1841 M1160.5,1843.9 L1157.9,1844.6 " stroke="#777" stroke-width="0.9"/>
<text x="1147.7" y="1849.5" font-family="Liberation Sans, sans-serif" font-size="7" text-anchor="middle" fill="#686868">Bar</text>
<rect x="445.2" y="2048" width="9.2" height="14" fill="#6f6f6f"/>
<circle cx="449.5" cy="2032.2" r="16.1" fill="#e9e9e9" stroke="#6b6b6b" stroke-width="2.6"/>
<path d="M462.3,2035.6 L459.8,2035 M458.9,2041.6 L455.9,2038.6 M452.9,2045 L452.3,2042.5 M446.1,2045 L446.7,2042.5 M440.1,2041.6 L443.1,2038.6 M436.7,2035.6 L439.2,2035 M436.7,2028.8 L439.2,2029.4 M440.1,2022.8 L443.1,2025.8 M446.1,2019.4 L446.7,2021.9 M452.9,2019.4 L452.3,2021.9 M458.9,2022.8 L455.9,2025.8 M462.3,2028.8 L459.8,2029.4 " stroke="#777" stroke-width="0.9"/>
<text x="449.5" y="2034.4" font-family="Liberation Sans, sans-serif" font-size="7" text-anchor="middle" fill="#686868">Bar</text>
<rect x="940" y="1892.5" width="78" height="15.4" fill="#1d50cc"/>
<rect x="936.9" y="1888.3" width="7" height="24.5" fill="#1d50cc" rx="1.6"/>
<rect x="1014.2" y="1888.3" width="7" height="24.5" fill="#1d50cc" rx="1.6"/>
<circle cx="977.6" cy="1900.2" r="22.9" fill="#e6e6e6" stroke="#1d50cc" stroke-width="4.8"/>
<rect x="964.4" y="1887.6" width="22.6" height="6.8" fill="#ababab"/>
<path d="M970,1887.6 v6.800 M975.6,1887.6 v6.800 M981.2,1887.6 v6.800" stroke="#cfcfcf" stroke-width="1"/>
<rect x="986.8" y="1887.6" width="5.7" height="6.8" fill="#e8452c"/>
<circle cx="978.2" cy="1911.4" r="5" fill="#9a9a9a" stroke="#6d6d6d" stroke-width="2" stroke-dasharray="1.5 1.1"/>
<path d="M1092.9,1902 H1118.2 L1114.6,1983 Q1114.4,1988.8 1109,1988.8 H1102 Q1096.8,1988.8 1096.6,1983 Z" fill="url(#gFil)"/>
<path d="M1087.8,1891.7 H1123 V1898 Q1123,1904.5 1118.2,1905.5 H1092.9 Q1087.800,1904.5 1087.800,1898 Z" fill="url(#gFil)"/>
<rect x="489" y="2034.4" width="45.2" height="15.1" fill="#3c3c3e" rx="4"/>
<circle cx="511.3" cy="2077.4" r="24.4" fill="#303034" stroke="#1d50cc" stroke-width="5.6"/>
</g>
</svg>

<h2 class="abs h" id="h2" style="top:2220px;letter-spacing:0.55px">KLIMATYZACJA</h2>
<p class="abs p" id="p5" style="top:2370px;letter-spacing:0.54px">Montaż, naprawa i serwis techniczny klimatyzatorów.</p>
<div class="btn" style="top:2534px"><span id="b2">Zamówienie</span></div>
</body>
</html>
